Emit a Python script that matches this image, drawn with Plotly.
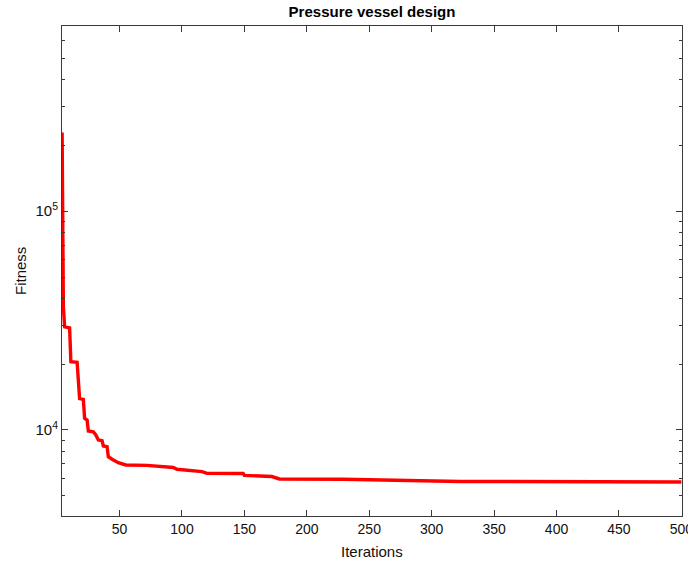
import plotly.graph_objects as go

# Convergence curve (change points)
iterations = [4, 5, 6, 10, 11, 16, 18, 21, 22, 24, 25, 29, 31, 33, 36, 37, 40, 41, 44, 46,
              49, 55, 72, 93, 96, 116, 120, 149, 150, 172, 178, 229, 309, 323, 434, 500]
fitness = [229000, 36500, 29600, 29300, 20500, 20400, 13900, 13800, 11300, 11100, 9900,
           9820, 9490, 9000, 8940, 8450, 8390, 7550, 7350, 7240, 7090, 6920, 6890, 6740,
           6615, 6450, 6336, 6330, 6200, 6127, 5975, 5960, 5870, 5820, 5800, 5790]

x_ticks = [50, 100, 150, 200, 250, 300, 350, 400, 450, 500]
y_ticks = [1e4, 1e5]
y_tick_text = ["10<sup>4</sup>", "10<sup>5</sup>"]
y_minor = [m * 10 ** e for e in (3, 4, 5) for m in range(2, 10)]

title_text = "Pressure vessel design"
x_title = "Iterations"
y_title = "Fitness"

FONT = "Liberation Sans, Arial, Helvetica, sans-serif"
AX = "#3a3a3a"
W, H = 688, 562
L, R, T, B = 62, 6, 26, 46

fig = go.Figure()
fig.add_trace(go.Scatter(x=iterations, y=fitness, mode="lines",
                         line=dict(color="#ff0000", width=3.4), showlegend=False))

fig.update_layout(
    width=W, height=H,
    margin=dict(l=L, r=R, t=T, b=B, autoexpand=False),
    paper_bgcolor="white", plot_bgcolor="white",
    font=dict(family=FONT, size=14, color="#111"),
    title=dict(text="<b>" + title_text + "</b>", x=(L + W - R) / 2 / W, xanchor="center",
               y=1 - 12 / H, yanchor="middle", font=dict(size=15, color="#000")),
    annotations=[
        dict(text=x_title, xref="paper", yref="paper", x=0.5, y=-(551 - (H - B)) / (H - T - B),
             xanchor="center", yanchor="middle", showarrow=False,
             font=dict(size=15, color="#111")),
        dict(text=y_title, xref="paper", yref="paper", x=-(L - 20) / (W - L - R), y=0.5,
             xanchor="center", yanchor="middle", textangle=-90, showarrow=False,
             font=dict(size=15, color="#111")),
    ],
)

fig.update_xaxes(
    type="linear", range=[3.9, 500.5], automargin=False,
    tickvals=x_ticks, ticks="inside", ticklen=6, tickcolor=AX, tickwidth=1,
    showline=True, linecolor=AX, linewidth=1, mirror="allticks",
    showgrid=False, zeroline=False, ticklabeloverflow="allow",
    tickfont=dict(size=14, color="#111"),
)
fig.update_yaxes(
    type="log", range=[3.607, 5.846], automargin=False,
    tickvals=y_ticks, ticktext=y_tick_text, ticks="inside", ticklen=6, tickcolor=AX,
    showline=True, linecolor=AX, linewidth=1, mirror="allticks",
    showgrid=False, zeroline=False, ticklabeloverflow="allow",
    tickfont=dict(size=15, color="#111"),
    minor=dict(tickvals=y_minor, ticks="inside", ticklen=3, tickcolor=AX, showgrid=False),
)

fig.write_html(
    "out.html",
    config={"displayModeBar": False},
    post_script="document.body.style.margin='0';document.body.style.padding='0';"
                "document.body.style.overflow='hidden';",
)
